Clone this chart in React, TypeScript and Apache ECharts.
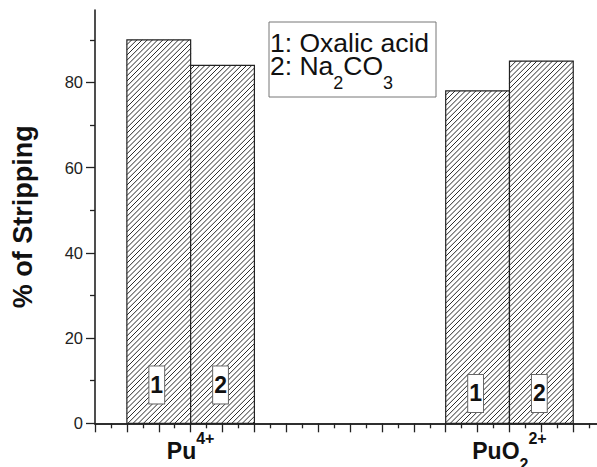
import React, { useEffect, useRef } from 'react';
import * as echarts from 'echarts';

const FONT = '"Liberation Sans", Arial, Helvetica, sans-serif';

// Data
const categoryLabels = ['{b|Pu}{sup|4+}', '{b|PuO}{sub|2}{sup|2+}'];
const categoryPositions = [3, 13];
const barTags = ['1', '2'];
const oxalicAcid = [90, 78];
const sodiumCarbonate = [84, 85];
const legendLines = ['{n|1: Oxalic acid}', '{n|2: Na}{s|2}{n|CO}{s|3}'];
const yMajorTicks = [0, 20, 40, 60, 80];
const yMinorTicks = [10, 30, 50, 70, 90];
const yMax = 97;
const xMax = 17;
const barSpan = 2;

function makeRenderItem(tag: string) {
  return (params: any, api: any) => {
    const x0 = api.value(0);
    const x1 = api.value(1);
    const v = api.value(2);
    const tl = api.coord([x0, v]);
    const br = api.coord([x1, 0]);
    const L = tl[0], T = tl[1], R = br[0], B = br[1];
    const children: any[] = [];
    children.push({
      type: 'rect',
      shape: { x: L, y: T, width: R - L, height: B - T },
      style: { fill: '#fff', stroke: 'none' },
    });
    const h = 5.2;
    for (let k = Math.ceil((L + T) / h); k * h <= R + B; k++) {
      const c = k * h;
      const xa = Math.max(L, c - B);
      const xb = Math.min(R, c - T);
      if (xb - xa > 0.3) {
        children.push({
          type: 'line',
          shape: { x1: xa, y1: c - xa, x2: xb, y2: c - xb },
          style: { stroke: '#2a2a2a', lineWidth: 1 },
        });
      }
    }
    children.push({
      type: 'rect',
      shape: { x: L, y: T, width: R - L, height: B - T },
      style: { fill: 'none', stroke: '#222', lineWidth: 1.2 },
    });
    const labelY = api.coord([0, params.dataIndex === 0 ? 9 : 7])[1];
    children.push({
      type: 'text',
      style: {
        text: tag,
        x: (L + R) / 2 - 2,
        y: labelY,
        align: 'center',
        verticalAlign: 'middle',
        fontSize: 23,
        fontWeight: 'bold',
        fontFamily: FONT,
        fill: '#111',
        backgroundColor: '#fff',
        borderColor: '#666',
        borderWidth: 1,
        padding: [7, 1, 7, 1],
        lineHeight: 23,
      },
    });
    return { type: 'group', children };
  };
}

export default function App() {
  const ref = useRef<HTMLDivElement>(null);
  useEffect(() => {
    if (!ref.current) return;
    const chart = echarts.init(ref.current, undefined, { renderer: 'svg' });
    const lineStyle = { color: '#222', width: 1.6 };
    const tickStyle = { color: '#222', width: 1.3 };
    const option: any = {
      animation: false,
      backgroundColor: '#fff',
      grid: { left: 95, right: -40, top: 10, bottom: 43.7, containLabel: false, outerBoundsMode: 'none' },
      xAxis: [
        {
          type: 'value',
          min: 0,
          max: xMax,
          interval: 1,
          position: 'bottom',
          axisLine: { show: true, lineStyle },
          axisTick: { show: true, inside: false, length: 9, lineStyle: tickStyle },
          minorTick: { show: true, splitNumber: 2, length: 5, lineStyle: tickStyle },
          splitLine: { show: false },
          minorSplitLine: { show: false },
          axisLabel: {
            show: true,
            margin: 7,
            color: '#111',
            fontFamily: FONT,
            formatter: (val: number) => {
              const i = categoryPositions.indexOf(Math.round(val));
              return i >= 0 && Math.abs(val - Math.round(val)) < 1e-6 ? categoryLabels[i] : '';
            },
            rich: {
              b: { fontSize: 23, fontWeight: 'bold', fontFamily: FONT, color: '#111', lineHeight: 42, verticalAlign: 'middle' },
              sup: { fontSize: 16, fontWeight: 'bold', fontFamily: FONT, color: '#111', lineHeight: 16, verticalAlign: 'top' },
              sub: { fontSize: 16, fontWeight: 'bold', fontFamily: FONT, color: '#111', lineHeight: 16, verticalAlign: 'bottom' },
            },
          },
        },
        {
          type: 'value',
          min: 0,
          max: xMax,
          position: 'top',
          axisLine: { show: true, lineStyle },
          axisTick: { show: false },
          axisLabel: { show: false },
          splitLine: { show: false },
        },
      ],
      yAxis: [
        {
          type: 'value',
          min: 0,
          max: yMax,
          position: 'left',
          name: '% of Stripping',
          nameLocation: 'middle',
          nameGap: 59,
          nameTextStyle: { fontSize: 27, fontWeight: 'bold', fontFamily: FONT, color: '#111' },
          axisLine: { show: true, lineStyle },
          axisTick: { show: true, length: 9, customValues: yMajorTicks, lineStyle: tickStyle },
          axisLabel: { show: true, margin: 12, fontSize: 16.5, fontFamily: FONT, color: '#222', customValues: yMajorTicks },
          splitLine: { show: false },
        },
        {
          type: 'value',
          min: 0,
          max: yMax,
          position: 'left',
          axisLine: { show: false },
          axisTick: { show: true, length: 5, customValues: yMinorTicks, lineStyle: tickStyle },
          axisLabel: { show: false },
          splitLine: { show: false },
        },
      ],
      graphic: [
        {
          type: 'rect',
          shape: { x: 269, y: 22, width: 167, height: 75 },
          style: { fill: '#fff', stroke: '#777', lineWidth: 1 },
          z: 100,
        },
        {
          type: 'text',
          z: 101,
          style: {
            x: 270,
            y: 29,
            align: 'left',
            verticalAlign: 'top',
            text: legendLines.join('\n'),
            rich: {
              n: { fontSize: 26.5, fontFamily: FONT, fill: '#111', color: '#111', lineHeight: 23.5, verticalAlign: 'top' },
              s: { fontSize: 18, fontFamily: FONT, fill: '#111', color: '#111', lineHeight: 39.5, verticalAlign: 'bottom' },
            },
          },
        },
      ],
      series: [
        {
          type: 'custom',
          name: 'Oxalic acid',
          xAxisIndex: 0,
          yAxisIndex: 0,
          renderItem: makeRenderItem(barTags[0]),
          encode: { x: [0, 1], y: 2 },
          data: categoryPositions.map((p, i) => [p - barSpan, p, oxalicAcid[i]]),
        },
        {
          type: 'custom',
          name: 'Na2CO3',
          xAxisIndex: 0,
          yAxisIndex: 0,
          renderItem: makeRenderItem(barTags[1]),
          encode: { x: [0, 1], y: 2 },
          data: categoryPositions.map((p, i) => [p, p + barSpan, sodiumCarbonate[i]]),
        },
      ],
    };
    chart.setOption(option);
    return () => chart.dispose();
  }, []);
  return <div ref={ref} style={{ position: 'fixed', left: 0, top: 0, width: 597, height: 467 }} />;
}
